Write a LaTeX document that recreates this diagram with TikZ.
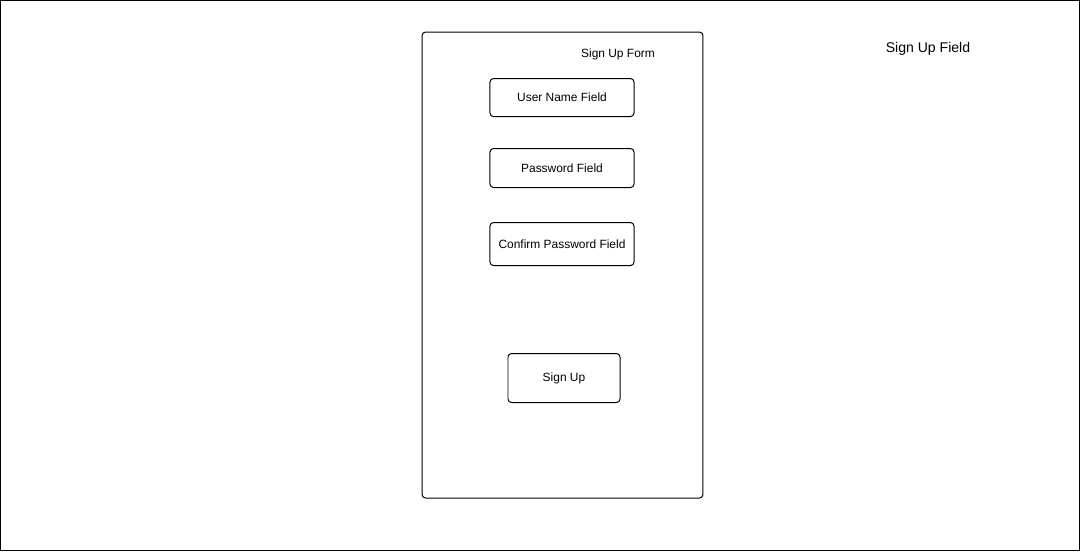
\documentclass[tikz,border=0pt]{standalone}
\usepackage{fontspec}
\setmainfont{Liberation Sans}
\usetikzlibrary{positioning}

\begin{document}
\begin{tikzpicture}[x=0.025cm,y=-0.025cm,
  field/.style={draw,line width=0.7pt,rounded corners=2.5pt,minimum width=3.6cm,minimum height=0.95cm,font=\fontsize{8.5}{10}\selectfont,inner sep=0pt}]
\draw[black,line width=0.8pt] (0.5,0.5) rectangle (1079.5,550.5);
\draw[rounded corners=2.5pt,line width=0.7pt] (422,32) rectangle (703,498);
\node[font=\fontsize{8.5}{10}\selectfont] (formtitle) at (618,54) {Sign Up Form};
\node[field] (username) at (562,97.5) {User Name Field};
\node[field,minimum height=0.975cm] (password) at (562,168) {Password Field};
\node[field,minimum height=1.075cm] (confirm) at (562,244) {Confirm Password Field};
\node[field,minimum width=2.8cm,minimum height=1.225cm] (signup) at (564,378) {Sign Up};
\node[font=\fontsize{10}{12}\selectfont] (fieldtitle) at (928,48.5) {Sign Up Field};
\end{tikzpicture}
\end{document}
